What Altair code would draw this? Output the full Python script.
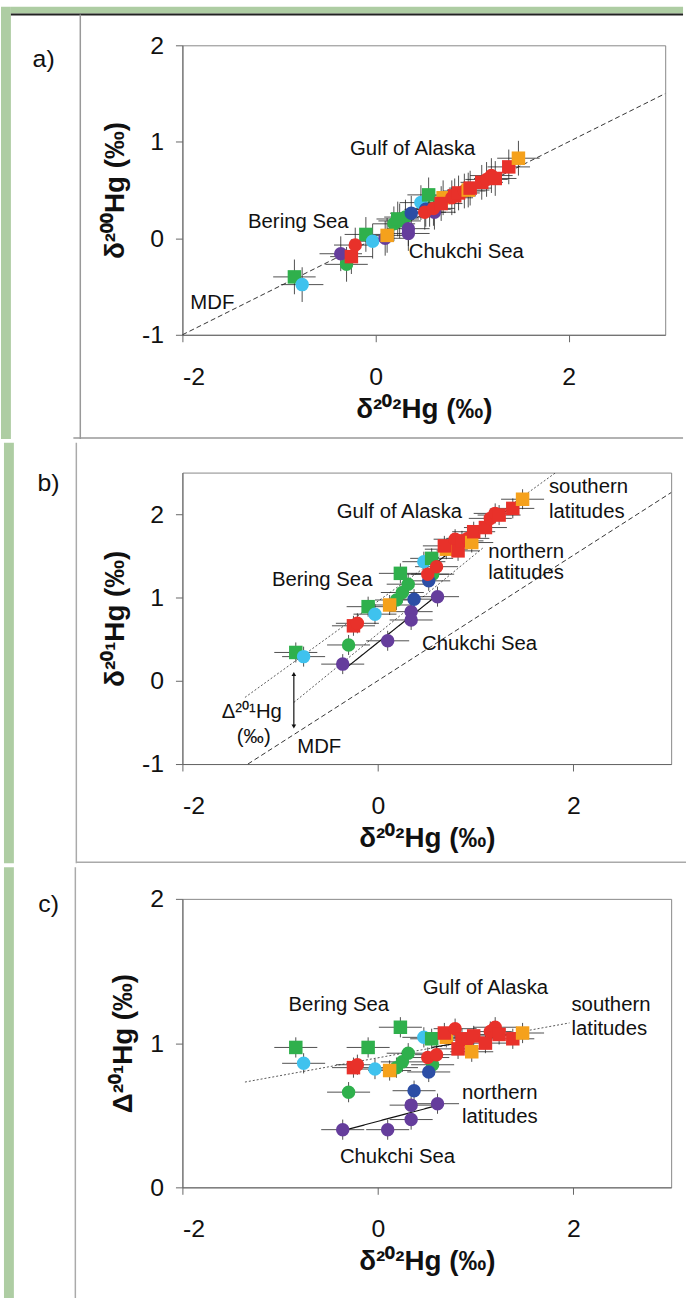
import altair as alt
import pandas as pd

# ---------------- sample values ----------------
kind = ["green", "cyan", "green", "green", "cyan", "green", "green", "green", "green", "cyan", "green", "green",
        "purple", "purple", "purple", "purple", "purple", "blue", "blue",
        "red", "red", "orange", "red", "red", "orange", "red", "red", "red", "red", "red", "orange",
        "red", "red", "red", "red", "red", "red", "orange"]
shape = ["square", "circle", "circle", "square", "circle", "circle", "circle", "circle", "square", "circle", "square", "circle",
         "circle", "circle", "circle", "circle", "circle", "circle", "circle",
         "square", "circle", "square", "circle", "circle", "square", "square", "circle", "square", "square", "circle", "square",
         "square", "square", "circle", "circle", "square", "square", "square"]
d202 = [-0.84, -0.76, -0.30, -0.10, -0.03, 0.19, 0.25, 0.31, 0.23, 0.47, 0.55, 0.56,
        -0.36, 0.10, 0.34, 0.34, 0.61, 0.37, 0.52,
        -0.25, -0.21, 0.12, 0.51, 0.60, 0.70, 0.68, 0.79, 0.82, 0.86, 0.92, 0.96,
        0.98, 1.10, 1.15, 1.20, 1.24, 1.38, 1.48]
d200 = [-0.40, -0.48, -0.27, 0.04, -0.03, 0.15, 0.18, 0.22, 0.20, 0.37, 0.45, 0.30,
        -0.16, 0.00, 0.05, 0.10, 0.27, 0.26, 0.30,
        -0.19, -0.07, 0.03, 0.27, 0.31, 0.42, 0.36, 0.42, 0.44, 0.47, 0.49, 0.50,
        0.52, 0.58, 0.61, 0.65, 0.62, 0.74, 0.83]
d201 = [0.34, 0.29, 0.43, 0.89, 0.80, 0.97, 1.06, 1.16, 1.29, 1.43, 1.47, 1.28,
        0.20, 0.48, 0.83, 0.73, 1.01, 0.98, 1.20,
        0.66, 0.69, 0.91, 1.28, 1.37, 1.58, 1.62, 1.70, 1.56, 1.68, 1.71, 1.66,
        1.79, 1.84, 1.95, 2.01, 1.99, 2.07, 2.18]
cap201 = [0.97, 0.86, 0.66, 0.97, 0.82, 0.83, 0.87, 0.93, 1.11, 1.04, 1.03, 0.85,
          0.40, 0.40, 0.57, 0.47, 0.58, 0.67, 0.80,
          0.83, 0.85, 0.81, 0.90, 0.92, 1.04, 1.07, 1.10, 0.96, 1.03, 1.02, 0.94,
          1.05, 1.00, 1.08, 1.11, 1.06, 1.03, 1.07]

X_ERR = 0.22
Y_ERR = {"d200": 0.18, "d201": 0.12, "cap201": 0.07}

# ---------------- reference lines (endpoints) ----------------
lines_a = {"seg": ["mdf", "mdf"], "style": ["dash", "dash"], "x": [-2.0, 3.0], "y": [-1.0, 1.5]}
lines_b = {"seg": ["mdf", "mdf", "south", "south", "north", "north", "gulf", "gulf", "chuk", "chuk"],
           "style": ["dash", "dash", "dot", "dot", "dot", "dot", "solid", "solid", "solid", "solid"],
           "x": [-1.33, 3.0, -1.36, 1.82, -0.86, 1.08, 0.55, 1.44, -0.32, 0.62],
           "y": [-1.0, 2.26, -0.20, 2.5, -0.26, 1.60, 1.38, 2.15, 0.16, 1.04]}
lines_c = {"seg": ["south", "south", "gulf", "gulf", "chuk", "chuk"],
           "style": ["dot", "dot", "solid", "solid", "solid", "solid"],
           "x": [-1.36, 1.96, 0.55, 1.44, -0.32, 0.62],
           "y": [0.73, 1.14, 0.97, 1.07, 0.40, 0.57]}
arrow_b = {"x": [-0.86, -0.86], "y": [0.08, -0.55], "head": ["triangle-up", "triangle-down"]}

# ---------------- annotations ----------------
text_a_c = {"t": ["Gulf of Alaska", "Bering Sea", "Chukchi Sea", "MDF"],
            "x": [0.385, -0.80, 0.94, -1.69], "y": [0.93, 0.17, -0.14, -0.67]}
text_a_l = {"t": [], "x": [], "y": []}
text_b_c = {"t": ["Gulf of Alaska", "Bering Sea", "Chukchi Sea", "Δ²⁰¹Hg", "(‰)", "MDF"],
            "x": [0.22, -0.57, 1.04, -1.29, -1.27, -0.60], "y": [2.03, 1.21, 0.44, -0.37, -0.67, -0.80]}
text_b_l = {"t": ["southern", "latitudes", "northern", "latitudes"],
            "x": [1.75, 1.75, 1.13, 1.13], "y": [2.33, 2.03, 1.55, 1.29]}
text_c_c = {"t": ["Gulf of Alaska", "Bering Sea", "Chukchi Sea"],
            "x": [1.10, -0.40, 0.20], "y": [1.38, 1.265, 0.21]}
text_c_l = {"t": ["southern", "latitudes", "northern", "latitudes"],
            "x": [1.98, 1.98, 0.86, 0.86], "y": [1.265, 1.096, 0.654, 0.488]}

KINDS = ["green", "cyan", "red", "orange", "purple", "blue"]
KIND_COLORS = ["#2fb04c", "#3fc2ee", "#e8312a", "#f5a11c", "#653d9c", "#2c4ea5"]
FONT = "Liberation Sans"
GREEN_BG = "#aecda3"

df = pd.DataFrame({"kind": kind, "shape": shape, "d202": d202, "d200": d200, "d201": d201, "cap201": cap201})
DUMMY = pd.DataFrame({"k": [0]})


def drect(x, x2, y, y2, color):
    return alt.Chart(DUMMY).mark_rect(color=color).encode(
        x=alt.value(x), x2=alt.value(x2), y=alt.value(y), y2=alt.value(y2))


def drule(x, x2, y, y2, color, w):
    return alt.Chart(DUMMY).mark_rule(color=color, strokeWidth=w).encode(
        x=alt.value(x), x2=alt.value(x2), y=alt.value(y), y2=alt.value(y2))


def panel(ycol, ydom, yvals, ytitle, w, h, lines, tc, tl, decor, label, label_xy, arrow=None):
    xs = alt.Scale(domain=[-2, 3], nice=False, zero=False)
    ys = alt.Scale(domain=ydom, nice=False, zero=False)
    xax = alt.Axis(values=[-2, 0, 2], title="δ²⁰²Hg (‰)", labelExpr="'' + datum.value")
    yax = alt.Axis(values=yvals, title=ytitle, labelExpr="'' + datum.value")
    yerr = Y_ERR[ycol]

    layers = list(decor)

    ldf = pd.DataFrame(lines)
    ldf["o"] = range(len(ldf))
    dash = {"dash": [5, 3], "dot": [2, 2], "solid": [1, 0]}
    width = {"dash": 1.0, "dot": 0.9, "solid": 1.2}
    col = {"dash": "#333", "dot": "#444", "solid": "#111"}
    for st in ["dash", "dot", "solid"]:
        sub = ldf[ldf["style"] == st]
        if len(sub):
            layers.append(alt.Chart(sub).mark_line(strokeDash=dash[st], strokeWidth=width[st], color=col[st]).encode(
                x=alt.X("x:Q", scale=xs, axis=xax), y=alt.Y("y:Q", scale=ys, axis=yax),
                detail="seg:N", order="o:Q"))

    base = alt.Chart(df).transform_calculate(
        xlo=f"datum.d202 - {X_ERR}", xhi=f"datum.d202 + {X_ERR}",
        ylo=f"datum.{ycol} - {yerr}", yhi=f"datum.{ycol} + {yerr}")
    layers.append(base.mark_rule(color="#222", strokeWidth=1, opacity=0.8).encode(
        x=alt.X("xlo:Q", scale=xs, axis=xax), x2="xhi:Q", y=alt.Y(f"{ycol}:Q", scale=ys, axis=yax)))
    layers.append(base.mark_rule(color="#222", strokeWidth=1, opacity=0.8).encode(
        x=alt.X("d202:Q", scale=xs, axis=xax), y=alt.Y("ylo:Q", scale=ys, axis=yax), y2="yhi:Q"))
    layers.append(alt.Chart(df).mark_point(filled=True, opacity=1, size=185, strokeWidth=0).encode(
        x=alt.X("d202:Q", scale=xs, axis=xax),
        y=alt.Y(f"{ycol}:Q", scale=ys, axis=yax),
        color=alt.Color("kind:N", scale=alt.Scale(domain=KINDS, range=KIND_COLORS), legend=None),
        shape=alt.Shape("shape:N", scale=alt.Scale(domain=["square", "circle"], range=["square", "circle"]), legend=None)))

    if arrow is not None:
        adf = pd.DataFrame(arrow)
        layers.append(alt.Chart(adf).mark_line(color="#111", strokeWidth=1.2).encode(
            x=alt.X("x:Q", scale=xs, axis=xax), y=alt.Y("y:Q", scale=ys, axis=yax)))
        layers.append(alt.Chart(adf).mark_point(filled=True, color="#111", size=22, opacity=1).encode(
            x=alt.X("x:Q", scale=xs, axis=xax), y=alt.Y("y:Q", scale=ys, axis=yax),
            shape=alt.Shape("head:N", scale=None, legend=None)))

    for tdata, al in [(tc, "center"), (tl, "left")]:
        if len(tdata["t"]):
            layers.append(alt.Chart(pd.DataFrame(tdata)).mark_text(
                align=al, baseline="middle", fontSize=20.5, font=FONT, color="#111").encode(
                x=alt.X("x:Q", scale=xs, axis=xax), y=alt.Y("y:Q", scale=ys, axis=yax), text="t:N"))

    layers.append(alt.Chart(DUMMY).mark_text(align="center", baseline="middle", fontSize=25, font=FONT, color="#111").encode(
        x=alt.value(label_xy[0]), y=alt.value(label_xy[1]), text=alt.value(label)))

    return alt.layer(*layers).properties(width=w, height=h)


decor_a = [drect(-183, -173, -39, 397, GREEN_BG), drect(-173, 505, -39, -32, GREEN_BG),
           drule(-173, 505, -31, -31, "#222", 2), drule(-103, -103, -31, 397, "#999", 1.5),
           drule(-110, 505, 396, 396, "#999", 1.5)]
decor_b = [drect(-180, -170, -30, 394, GREEN_BG), drule(-107, -107, -30, 394, "#aaa", 1.5),
           drule(-107, 508, 393, 393, "#aaa", 1.5)]
decor_c = [drect(-180, -170, -32, 406, GREEN_BG), drule(-108, -108, -32, 406, "#aaa", 1.5)]

pa = panel("d200", [-1, 2], [-1, 0, 1, 2], "δ²⁰⁰Hg (‰)", 487, 292, lines_a, text_a_c, text_a_l, decor_a, "a)", (-140, 14))
pb = panel("d201", [-1, 2.5], [-1, 0, 1, 2], "δ²⁰¹Hg (‰)", 493, 294, lines_b, text_b_c, text_b_l, decor_b, "b)", (-135, 11), arrow_b)
pc = panel("cap201", [0, 2], [0, 1, 2], "Δ²⁰¹Hg (‰)", 493, 291, lines_c, text_c_c, text_c_l, decor_c, "c)", (-135, 5))

chart = alt.vconcat(pa, pb, pc, spacing=0).properties(
    padding=0, background="white"
).configure_view(stroke="#888", strokeWidth=1).configure_axis(
    grid=False, domainColor="#666", tickColor="#666", labelColor="#111", titleColor="#111",
    labelFont=FONT, titleFont=FONT, labelFontSize=25, titleFontSize=28, titleFontWeight="bold",
    tickSize=7
).configure_axisX(labelPadding=23, titlePadding=6).configure_axisY(labelPadding=12, titlePadding=12)

chart.save("out.html", embed_options={"renderer": "svg", "actions": False})
